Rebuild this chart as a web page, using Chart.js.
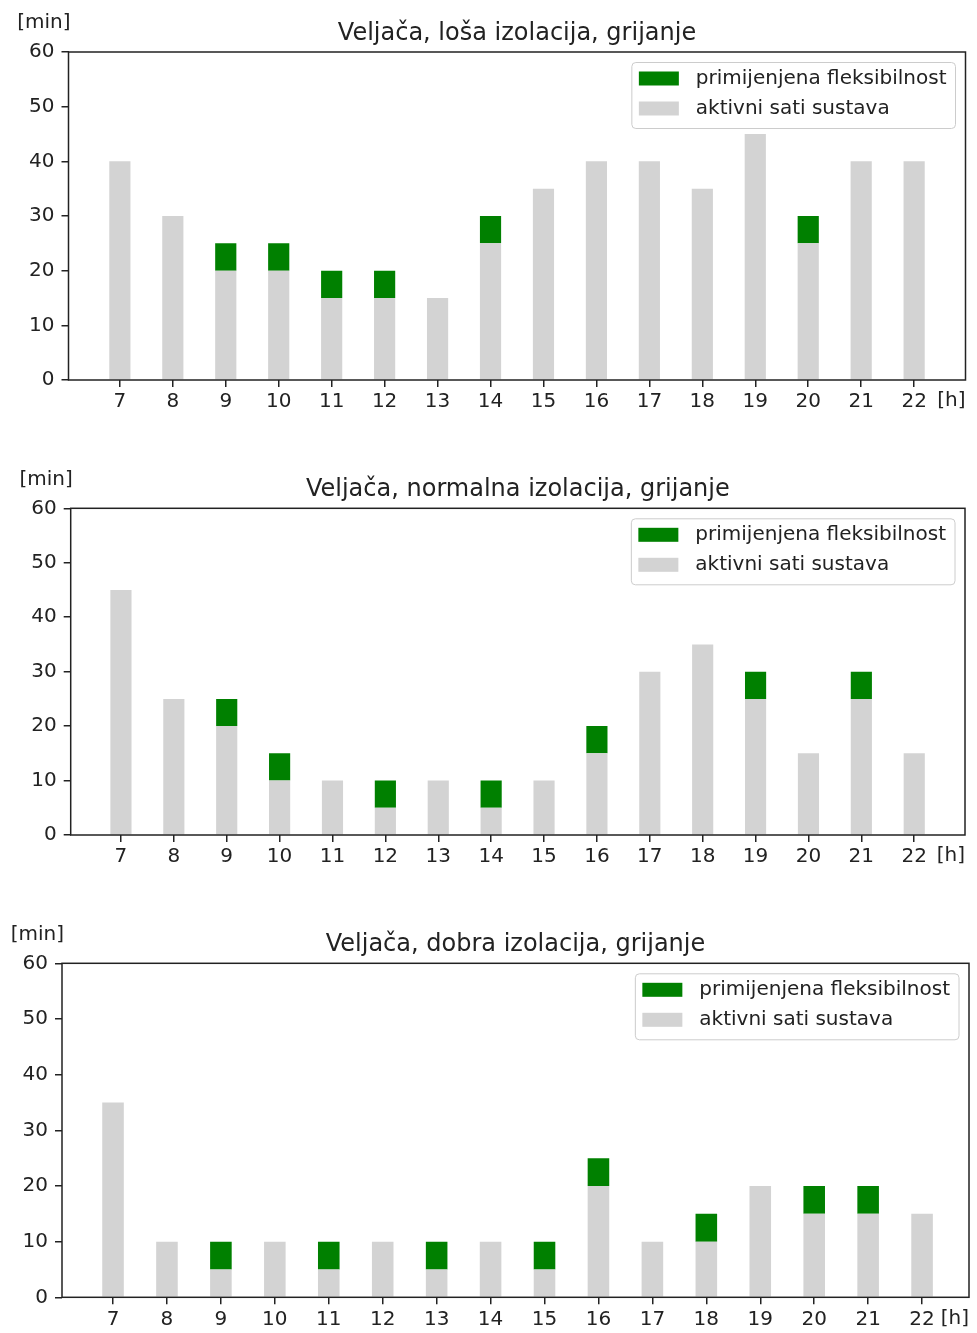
<!DOCTYPE html>
<html>
<head>
<meta charset="utf-8">
<script src="https://cdn.jsdelivr.net/npm/chart.js@4.4.0/dist/chart.umd.min.js"></script>
<style>
  body { margin: 0; background: #fff; }
  .wrap { position: absolute; left: 0; width: 977px; }
  canvas { display: block; }
</style>
</head>
<body>
<div class="wrap" style="top:0px"><canvas id="c1" width="977" height="445"></canvas></div>
<div class="wrap" style="top:445px"><canvas id="c2" width="977" height="455"></canvas></div>
<div class="wrap" style="top:900px"><canvas id="c3" width="977" height="433"></canvas></div>
<script>
// ================= Data =================
const hours = [7, 8, 9, 10, 11, 12, 13, 14, 15, 16, 17, 18, 19, 20, 21, 22];

// loša izolacija
const activeLosa = [40, 30, 20, 20, 15, 15, 15, 25, 35, 40, 40, 35, 45, 25, 40, 40];
const flexLosa   = [0, 0, 5, 5, 5, 5, 0, 5, 0, 0, 0, 0, 0, 5, 0, 0];

// normalna izolacija
const activeNormalna = [45, 25, 20, 10, 10, 5, 10, 5, 10, 15, 30, 35, 25, 15, 25, 15];
const flexNormalna   = [0, 0, 5, 5, 0, 5, 0, 5, 0, 5, 0, 0, 5, 0, 5, 0];

// dobra izolacija
const activeDobra = [35, 10, 5, 10, 5, 10, 5, 10, 5, 20, 10, 10, 20, 15, 15, 15];
const flexDobra   = [0, 0, 5, 0, 5, 0, 5, 0, 5, 5, 0, 5, 0, 5, 5, 0];

const legendLabels = ['primijenjena fleksibilnost', 'aktivni sati sustava'];

const GREEN = '#008000';
const GRAY = '#d3d3d3';
const TEXT = '#222';
const FONT = '"DejaVu Sans", sans-serif';

// ================= Decorations (frame, title, axis units, legend) =================
const decorPlugin = {
  id: 'decor',
  afterDraw(chart, args, opts) {
    const { ctx, chartArea: a } = chart;
    ctx.save();

    // frame
    ctx.strokeStyle = TEXT;
    ctx.lineWidth = 1.5;
    ctx.strokeRect(a.left, a.top, a.right - a.left, a.bottom - a.top);

    // title
    ctx.fillStyle = TEXT;
    ctx.font = `24px ${FONT}`;
    ctx.textAlign = 'center';
    ctx.textBaseline = 'alphabetic';
    ctx.fillText(opts.title, (a.left + a.right) / 2, a.top - 12);

    // units
    ctx.font = `20px ${FONT}`;
    ctx.textAlign = 'right';
    ctx.textBaseline = 'middle';
    ctx.fillText('[min]', a.left + 2, a.top - 29);
    ctx.fillText('[h]', a.right, a.bottom + 21);

    // legend
    const items = [[legendLabels[0], GREEN], [legendLabels[1], GRAY]];
    const tw = Math.max(...items.map(i => ctx.measureText(i[0]).width));
    const w = 64 + tw + 9, h = 66;
    const x = a.right - 10 - w, y = a.top + 10.5;
    ctx.beginPath();
    ctx.roundRect(x, y, w, h, 4);
    ctx.fillStyle = 'rgba(255,255,255,0.85)';
    ctx.fill();
    ctx.strokeStyle = '#cccccc';
    ctx.lineWidth = 1;
    ctx.stroke();
    ctx.textAlign = 'left';
    items.forEach(([label, color], i) => {
      const cy = y + 16 + i * 30;
      ctx.fillStyle = color;
      ctx.fillRect(x + 7, cy - 7, 40, 14);
      ctx.fillStyle = TEXT;
      ctx.fillText(label, x + 64, cy);
    });

    ctx.restore();
  }
};

// ================= Chart =================
function makeChart(id, title, active, flex, xMin, xMax, box) {
  const tickFont = { family: FONT, size: 20 };
  const grid = { drawOnChartArea: false, offset: false, tickLength: 7, lineWidth: 1.5, tickWidth: 1.5, tickColor: TEXT, color: TEXT };

  return new Chart(document.getElementById(id), {
    type: 'bar',
    data: {
      datasets: [
        { label: legendLabels[1], data: hours.map((h, i) => ({ x: h, y: active[i] })),
          backgroundColor: GRAY, barPercentage: 0.4, categoryPercentage: 1 },
        { label: legendLabels[0], data: hours.map((h, i) => ({ x: h, y: flex[i] || null })),
          backgroundColor: GREEN, barPercentage: 0.4, categoryPercentage: 1 },
      ]
    },
    options: {
      responsive: false,
      animation: false,
      layout: { padding: { top: box.top, right: 977 - box.right, left: 0, bottom: 0 } },
      plugins: { legend: { display: false }, tooltip: { enabled: false }, decor: { title } },
      scales: {
        x: {
          type: 'linear', min: xMin, max: xMax, stacked: true, offset: false,
          afterBuildTicks: s => { s.ticks = hours.map(v => ({ value: v })); },
          afterFit: s => { s.height = box.h - box.bottom; },
          grid, border: { display: false },
          ticks: { autoSkip: false, maxRotation: 0, padding: 3, color: TEXT, font: tickFont }
        },
        y: {
          min: 0, max: 60, stacked: true,
          afterFit: s => { s.width = box.left; },
          grid, border: { display: false },
          ticks: { stepSize: 10, padding: 7, color: TEXT, font: tickFont }
        }
      }
    },
    plugins: [decorPlugin]
  });
}

makeChart('c1', 'Veljača, loša izolacija, grijanje', activeLosa, flexLosa, 6.03, 22.97,
  { top: 52, bottom: 380, left: 68.5, right: 965.5, h: 445 });
makeChart('c2', 'Veljača, normalna izolacija, grijanje', activeNormalna, flexNormalna, 6.05, 22.96,
  { top: 63.3, bottom: 390, left: 70.7, right: 965, h: 455 });
makeChart('c3', 'Veljača, dobra izolacija, grijanje', activeDobra, flexDobra, 6.054, 22.87,
  { top: 63.3, bottom: 397.3, left: 62, right: 969, h: 433 });
</script>
</body>
</html>
